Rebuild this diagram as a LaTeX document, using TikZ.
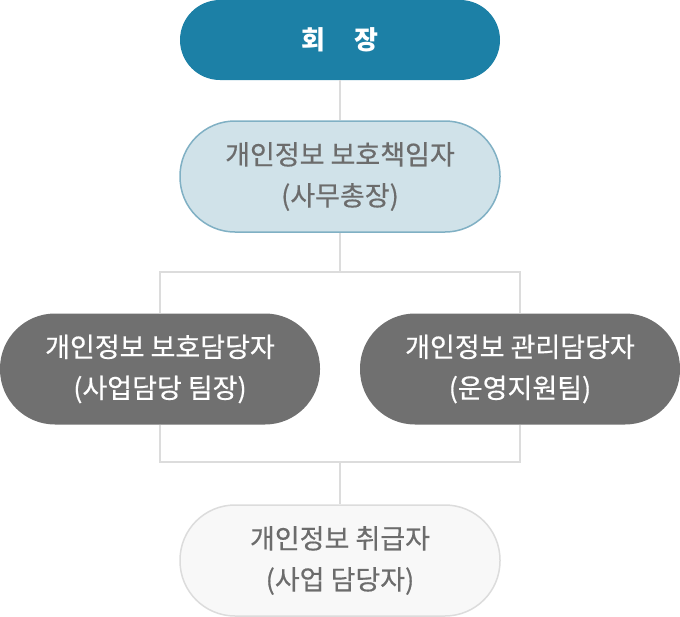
\documentclass[tikz,border=0pt]{standalone}
\usepackage{fontspec}
\setmainfont{Noto Sans CJK KR}
\newfontfamily\medfont[FakeBold=0.5]{Noto Sans CJK KR}
\usetikzlibrary{positioning}

\definecolor{headblue}{RGB}{28,128,166}
\definecolor{paleblue}{RGB}{208,226,233}
\definecolor{paleedge}{RGB}{128,176,196}
\definecolor{darkgrey}{RGB}{112,112,112}
\definecolor{textgrey}{RGB}{108,108,108}
\definecolor{linegrey}{RGB}{220,220,220}
\definecolor{offwhite}{RGB}{248,248,248}

\tikzset{
    pill/.style={rectangle, rounded corners=55pt, minimum width=320pt, minimum height=111pt,
                 align=center, font=\fontsize{27}{41}\medfont, inner sep=0pt},
    link/.style={draw=linegrey, line width=2pt}
}

\begin{document}
\begin{tikzpicture}[x=1pt, y=-1pt]
                \useasboundingbox (0,0) rectangle (680,616);
                % chart boxes
                \node[pill, fill=headblue, text=white, rounded corners=40pt, minimum height=80pt,
                      font=\fontsize{26}{40}\selectfont\bfseries] (ceo) at (340,40) {회\hspace{1.1em}장};
                \node[pill, fill=paleblue, draw=paleedge, line width=1.5pt, text=textgrey] (cpo) at (340,176.5)
                    {개인정보 보호책임자\\(사무총장)};
                \node[pill, fill=darkgrey, text=white] (protect) at (160,369) {개인정보 보호담당자\\(사업담당 팀장)};
                \node[pill, fill=darkgrey, text=white] (manage) at (520,369) {개인정보 관리담당자\\(운영지원팀)};
                \node[pill, fill=offwhite, draw=linegrey, line width=1.5pt, text=textgrey] (handler) at (340,560.5)
                    {개인정보 취급자\\(사업 담당자)};
                % links
                \coordinate (split) at (340,272);
                \coordinate (merge) at (340,462);
                \draw[link] (ceo) -- (cpo);
                \draw[link] (cpo) -- (split);
                \draw[link] (protect) |- (split) -| (manage);
                \draw[link] (protect) |- (merge) -| (manage);
                \draw[link] (merge) -- (handler);
            \end{tikzpicture}
\end{document}
